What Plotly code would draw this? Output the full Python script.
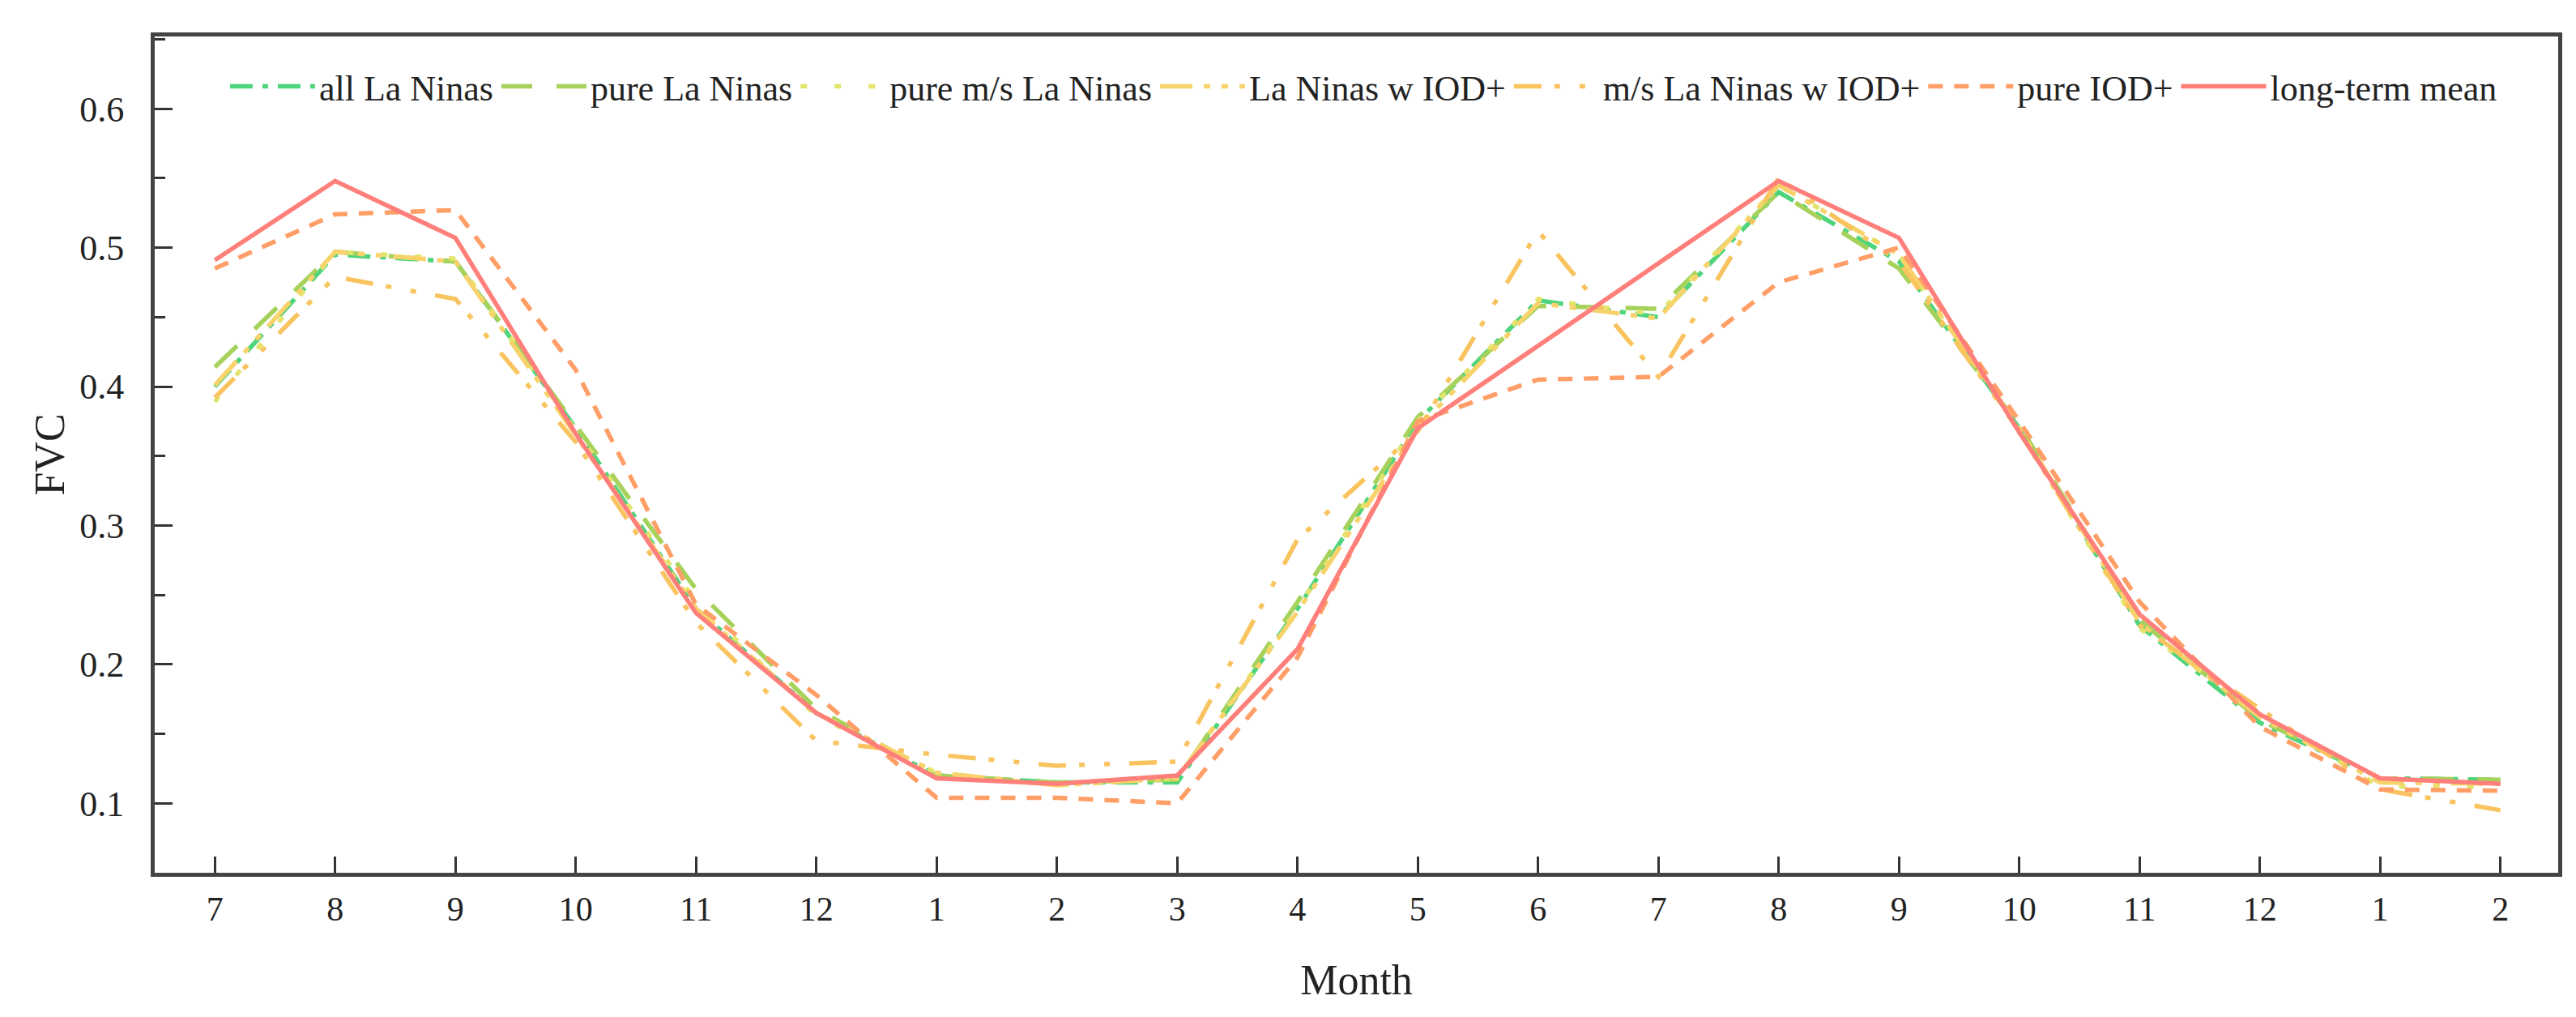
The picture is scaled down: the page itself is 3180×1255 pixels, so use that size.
import plotly.graph_objects as go

month_labels = ["7", "8", "9", "10", "11", "12", "1", "2", "3", "4",
                "5", "6", "7", "8", "9", "10", "11", "12", "1", "2"]
x_pos = list(range(len(month_labels)))

all_la_ninas = [0.400, 0.495, 0.490, 0.370, 0.240, 0.165, 0.120, 0.115, 0.115, 0.240,
                0.375, 0.462, 0.450, 0.540, 0.490, 0.370, 0.228, 0.158, 0.118, 0.117]
pure_la_ninas = [0.414, 0.497, 0.490, 0.372, 0.254, 0.168, 0.120, 0.115, 0.117, 0.245,
                 0.378, 0.458, 0.456, 0.540, 0.485, 0.372, 0.232, 0.160, 0.118, 0.117]
pure_ms_la_ninas = [0.389, 0.497, 0.492, 0.368, 0.245, 0.163, 0.122, 0.113, 0.118, 0.240,
                    0.375, 0.463, 0.452, 0.545, 0.495, 0.368, 0.226, 0.165, 0.112, 0.112]
la_ninas_w_iod = [0.401, 0.497, 0.490, 0.365, 0.240, 0.165, 0.122, 0.113, 0.118, 0.238,
                  0.370, 0.460, 0.449, 0.545, 0.495, 0.370, 0.230, 0.162, 0.115, 0.114]
ms_la_ninas_w_iod = [0.392, 0.479, 0.463, 0.360, 0.230, 0.145, 0.135, 0.127, 0.130, 0.290,
                     0.368, 0.512, 0.407, 0.550, 0.490, 0.368, 0.228, 0.168, 0.110, 0.095]
pure_iod = [0.485, 0.524, 0.527, 0.412, 0.243, 0.178, 0.104, 0.104, 0.100, 0.205,
            0.375, 0.405, 0.407, 0.475, 0.500, 0.375, 0.245, 0.155, 0.110, 0.109]
long_term_mean = [0.491, 0.548, 0.507, 0.366, 0.237, 0.165, 0.118, 0.114, 0.120, 0.211,
                  0.370, None, None, 0.548, 0.507, 0.367, 0.236, 0.164, 0.118, 0.114]

y_ticks = [0.1, 0.2, 0.3, 0.4, 0.5, 0.6]

series = [
    ("all La Ninas", all_la_ninas, "#4fd47c", "28px,12px,7px,12px"),
    ("pure La Ninas", pure_la_ninas, "#a6d25b", "38px,30px"),
    ("pure m/s La Ninas", pure_ms_la_ninas, "#e3e46b", "8px,34px"),
    ("La Ninas w IOD+", la_ninas_w_iod, "#f8d26a", "40px,14px,8px,14px,8px,14px"),
    ("m/s La Ninas w IOD+", ms_la_ninas_w_iod, "#f9c45f", "34px,16px,7px,24px,7px,24px"),
    ("pure IOD+", pure_iod, "#ff9e66", "18px,14px"),
    ("long-term mean", long_term_mean, "#ff7f7a", "solid"),
]

fig = go.Figure()
for name, vals, color, dash in series:
    fig.add_trace(go.Scatter(
        x=x_pos, y=vals, name=name, mode="lines", connectgaps=True,
        line=dict(color=color, width=5.5, dash=dash),
    ))

font_family = "Liberation Serif, Times New Roman, serif"

fig.update_layout(
    width=3180, height=1255,
    margin=dict(l=183, r=30, t=37, b=186),
    paper_bgcolor="white", plot_bgcolor="white",
    font=dict(family=font_family, color="#222222"),
    legend=dict(
        orientation="h", x=0.503, xanchor="center", y=0.94, yanchor="middle",
        font=dict(size=44, family=font_family, color="#222222"),
        itemwidth=105, bgcolor="rgba(0,0,0,0)", traceorder="normal",
        tracegroupgap=0,
    ),
    showlegend=True,
)

fig.update_xaxes(
    range=[-0.5, 19.48],
    tickmode="array", tickvals=x_pos, ticktext=month_labels,
    ticks="inside", ticklen=20, tickwidth=3, tickcolor="#333333",
    tickfont=dict(size=42, family=font_family, color="#222222"),
    ticklabelstandoff=4,
    showline=True, linewidth=5, linecolor="#444444", mirror=True,
    showgrid=False, zeroline=False,
    title=dict(text="Month", font=dict(size=52, family=font_family, color="#222222"), standoff=48),
)

fig.update_yaxes(
    range=[0.05, 0.652],
    tickmode="array", tickvals=y_ticks, ticktext=[f"{v:.1f}" for v in y_ticks],
    ticks="inside", ticklen=22, tickwidth=3, tickcolor="#333333",
    minor=dict(ticks="inside", ticklen=13, tickwidth=3, tickcolor="#333333", dtick=0.1, tick0=0.05),
    tickfont=dict(size=44, family=font_family, color="#222222"),
    ticklabelstandoff=24,
    showline=True, linewidth=5, linecolor="#444444", mirror=True,
    showgrid=False, zeroline=False,
    title=dict(text="FVC", font=dict(size=52, family=font_family, color="#222222"), standoff=4),
)

fig.write_html("out.html")
